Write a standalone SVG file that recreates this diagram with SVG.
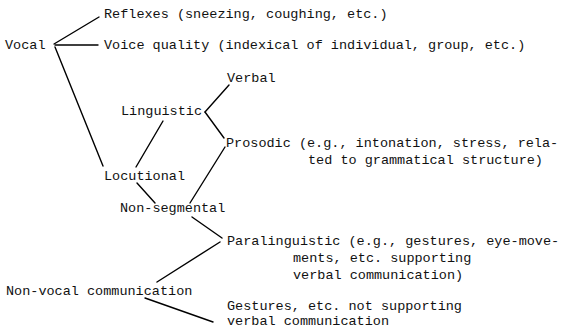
<svg xmlns="http://www.w3.org/2000/svg" width="561" height="329" viewBox="0 0 561 329">
<style>
text{font-family:"Liberation Mono","DejaVu Sans Mono",monospace;font-size:13.5px;fill:#111}
.c line{stroke:#000;stroke-width:1.4;stroke-linecap:round}
</style>
<rect width="561" height="329" fill="#fff"/>
<g class="c" id="connectors">
<line x1="54" y1="44" x2="99" y2="17"/>
<line x1="55" y1="45" x2="98" y2="45"/>
<line x1="55" y1="47" x2="103" y2="166"/>
<line x1="229" y1="85" x2="205" y2="112"/>
<line x1="205" y1="112" x2="224" y2="138"/>
<line x1="163" y1="121" x2="136" y2="167"/>
<line x1="137" y1="183" x2="155" y2="203"/>
<line x1="225" y1="147" x2="190" y2="203"/>
<line x1="192" y1="217" x2="222" y2="238"/>
<line x1="220" y1="242" x2="157" y2="282"/>
<line x1="145" y1="298" x2="213" y2="322"/>
</g>
<g id="vocal"><text x="5" y="49">Vocal</text></g>
<g id="reflexes"><text x="104" y="18">Reflexes (sneezing, coughing, etc.)</text></g>
<g id="voice"><text x="104" y="49">Voice quality (indexical of individual, group, etc.)</text></g>
<g id="verbal"><text x="227" y="82">Verbal</text></g>
<g id="linguistic"><text x="121" y="115">Linguistic</text></g>
<g id="prosodic"><text x="226" y="147">Prosodic (e.g., intonation, stress, rela-</text><text x="308" y="164">ted to grammatical structure)</text></g>
<g id="locutional"><text x="104" y="180">Locutional</text></g>
<g id="nonsegmental"><text x="120" y="212">Non-segmental</text></g>
<g id="paralinguistic"><text x="227" y="245">Paralinguistic (e.g., gestures, eye-move-</text><text x="293" y="262">ments, etc. supporting</text><text x="293" y="279">verbal communication)</text></g>
<g id="nonvocal"><text x="6" y="295">Non-vocal communication</text></g>
<g id="gestures"><text x="227" y="310">Gestures, etc. not supporting</text><text x="227" y="325">verbal communication</text></g>
</svg>
